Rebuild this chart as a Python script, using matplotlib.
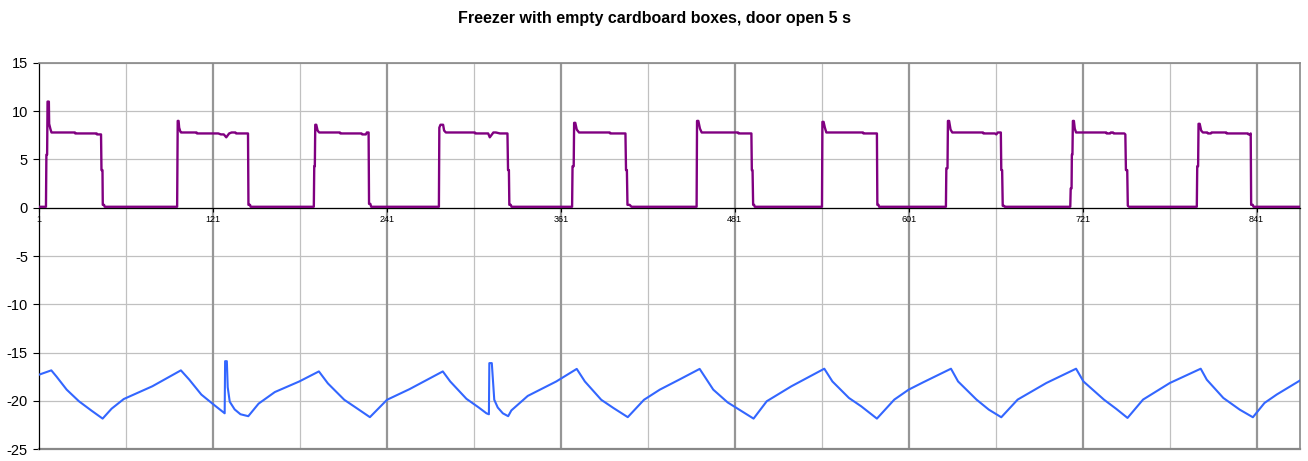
import matplotlib
matplotlib.use("Agg")
import matplotlib.pyplot as plt
import numpy as np

plt.rcParams["font.family"] = ["Liberation Sans", "DejaVu Sans"]

title = "Freezer with empty cardboard boxes, door open 5 s"

# purple series (compressor)
power_x = [1, 5.8, 6.1, 6.6, 6.9, 7.8, 8.0, 8.8, 9.6, 25.8, 26.0, 40.8, 41.0, 43.8, 44.1, 44.8, 45.0, 45.9, 46.3,
           96.3, 96.7, 97.3, 97.7, 98.5, 99.0, 109.7, 110, 124.7, 126.5, 128.5, 130.2, 132.2, 133.9, 136.5, 137, 145.2, 145.5, 146.6, 147,
           190.6, 190.9, 191.3, 191.6, 192.3, 193.2, 194.3, 208.6, 208.9, 223.5, 224, 226.5, 227.2, 228.4, 228.7, 229.6, 230.2,
           276.9, 277.2, 278.0, 279.8, 280.5, 281.7, 301.7, 302, 310.9, 312, 314.5, 316.2, 319, 324.2, 324.6, 325.2, 325.5, 326.5, 327,
           368.8, 369.1, 369.9, 370.2, 371.0, 372, 373.6, 394.8, 395.1, 405.6, 406.0, 406.6, 407.0, 408.5, 409.8,
           454.7, 455.0, 455.9, 457, 458.2, 483.3, 483.6, 492.5, 492.8, 493.3, 493.7, 494.4, 494.8,
           541.2, 541.5, 542.3, 543.2, 544.2, 569.5, 569.8, 579.1, 579.4, 580.2, 580.6,
           626.7, 627.0, 627.8, 628.1, 628.9, 629.9, 631.1, 652.3, 652.6, 660.5, 661.5, 662.5, 664.6, 664.9, 665.5, 665.9, 666.8, 667.2,
           712.5, 712.8, 713.4, 713.6, 714.0, 714.3, 715.0, 715.6, 716.5, 737.3, 737.6, 740, 740.5, 742, 742.5, 749.8, 750.5, 750.9, 751.8, 752.2, 753,
           799.8, 800.1, 800.7, 801.0, 801.8, 802.8, 804, 807, 807.5, 809.5, 810, 820.1, 820.4, 835, 835.5, 836.5, 837.0, 837.3, 838.4, 838.9, 871]
power_y = [0.1, 0.1, 5.5, 5.5, 11.0, 11.0, 8.7, 8.2, 7.8, 7.8, 7.7, 7.7, 7.6, 7.6, 3.9, 3.9, 0.3, 0.3, 0.1,
           0.1, 9.0, 9.0, 8.3, 7.9, 7.8, 7.8, 7.7, 7.7, 7.6, 7.6, 7.3, 7.7, 7.8, 7.8, 7.7, 7.7, 0.3, 0.3, 0.1,
           0.1, 4.3, 4.3, 8.6, 8.6, 8.0, 7.8, 7.8, 7.7, 7.7, 7.6, 7.6, 7.8, 7.8, 0.4, 0.4, 0.1,
           0.1, 8.3, 8.6, 8.6, 8.0, 7.8, 7.8, 7.7, 7.7, 7.3, 7.8, 7.8, 7.7, 7.7, 3.9, 3.9, 0.3, 0.3, 0.1,
           0.1, 4.3, 4.3, 8.8, 8.8, 8.1, 7.8, 7.8, 7.7, 7.7, 3.9, 3.9, 0.3, 0.3, 0.1,
           0.1, 9.0, 9.0, 8.2, 7.8, 7.8, 7.7, 7.7, 3.9, 3.9, 0.3, 0.3, 0.1,
           0.1, 8.9, 8.9, 8.3, 7.8, 7.8, 7.7, 7.7, 0.3, 0.3, 0.1,
           0.1, 4.1, 4.1, 9.0, 9.0, 8.1, 7.8, 7.8, 7.7, 7.7, 7.6, 7.8, 7.8, 3.9, 3.9, 0.2, 0.2, 0.1,
           0.1, 2.0, 2.0, 5.5, 5.5, 9.0, 9.0, 8.2, 7.8, 7.8, 7.7, 7.7, 7.8, 7.8, 7.7, 7.7, 7.6, 3.9, 3.9, 0.2, 0.1,
           0.1, 4.3, 4.3, 8.7, 8.7, 8.0, 7.8, 7.8, 7.7, 7.7, 7.8, 7.8, 7.7, 7.7, 7.6, 7.6, 7.7, 0.3, 0.3, 0.1, 0.1]

# blue series (temperature)
temp_x = [1, 9.5, 13.1, 20.1, 28.6, 37, 44.9, 51.1, 59.5, 79.2, 98.9,
          104.6, 113, 121.5, 129.1, 129.4, 130.6, 131.2, 132.6, 136, 140, 145.4,
          152.5, 163.7, 180.6, 194.1,
          200.3, 211.6, 220, 229.3,
          241.1, 256.6, 279.6,
          284.7, 295.9, 304.4, 309.7, 311.4, 311.7, 313.4, 315.1, 317.5, 321, 324.7,
          326.9, 338.2, 357.9, 372,
          377.6, 388.9, 397.3, 407.2,
          418.4, 429.3, 443.5, 456.8,
          466.2, 476.1, 486, 494,
          503.1, 520.1, 542.8,
          548.4, 559.8, 568.3, 579.1,
          591.1, 601, 611, 630.2,
          635.1, 647.8, 656.3, 664.9,
          676.2, 696, 716.5,
          721.6, 735.7, 744.3, 752,
          762.7, 781.2, 802.5,
          806.7, 818.1, 829.4, 838.5,
          846.5, 855, 871]
temp_y = [-17.3, -16.85, -17.5, -18.85, -20.06, -21.0, -21.85, -20.82, -19.82, -18.5, -16.85,
          -17.8, -19.36, -20.4, -21.3, -15.9, -15.9, -18.6, -20.1, -20.9, -21.4, -21.6,
          -20.3, -19.1, -18.0, -16.96,
          -18.2, -19.9, -20.75, -21.7,
          -19.9, -18.8, -16.96,
          -18.0, -19.8, -20.7, -21.3, -21.4, -16.1, -16.1, -19.9, -20.7, -21.3, -21.6,
          -21.0, -19.5, -18.0, -16.7,
          -18.0, -19.9, -20.75, -21.7,
          -19.9, -18.85, -17.75, -16.7,
          -18.85, -20.17, -21.1, -21.85,
          -20.05, -18.5, -16.68,
          -18.0, -19.71, -20.58, -21.85,
          -19.88, -18.85, -18.09, -16.68,
          -18.0, -19.88, -20.92, -21.71,
          -19.88, -18.16, -16.68,
          -18.0, -19.88, -20.85, -21.78,
          -19.88, -18.16, -16.68,
          -17.82, -19.71, -20.92, -21.71,
          -20.23, -19.35, -17.9]

x_labels = [1, 121, 241, 361, 481, 601, 721, 841]

fig = plt.figure(figsize=(13.08, 4.61), dpi=100)
ax = fig.add_axes([39/1308, 1-449/461, (1300-39)/1308, (449-63)/461])

ax.set_xlim(1, 871)
ax.set_ylim(-25, 15)

# gridlines
for yv in range(-25, 16, 5):
    ax.axhline(yv, color="#c0c0c0", lw=0.9, zorder=0)
for xv in range(61, 871, 120):
    ax.axvline(xv, color="#c0c0c0", lw=0.9, zorder=0)
for xv in x_labels[1:]:
    ax.axvline(xv, color="#969696", lw=1.6, zorder=0)

ax.plot(power_x, power_y, color="#800080", lw=1.7, zorder=3)
ax.plot(temp_x, temp_y, color="#3366ff", lw=1.5, zorder=3)

ax.spines["bottom"].set_position(("data", 0))
ax.spines["bottom"].set_color("black")
ax.spines["bottom"].set_linewidth(0.9)
ax.spines["left"].set_color("black")
ax.spines["left"].set_linewidth(0.9)
for s in ["top", "right"]:
    ax.spines[s].set_color("#888888")
    ax.spines[s].set_linewidth(1.2)
ax.axhline(-25, color="#888888", lw=1.6, clip_on=False, zorder=2)

ax.set_xticks(x_labels)
ax.set_xticklabels([str(v) for v in x_labels], fontsize=6.5)
ax.tick_params(axis="x", direction="out", length=3, width=0.8, pad=2)
ax.set_yticks(range(-25, 16, 5))
ax.set_yticklabels([str(v) for v in range(-25, 16, 5)], fontsize=10.5)
ax.tick_params(axis="y", direction="out", length=4, width=0.8, pad=4)

fig.text(0.5, 1-18/461, title, ha="center", va="center", fontsize=11.5, fontweight="bold")

fig.savefig("out.png", dpi=100)
